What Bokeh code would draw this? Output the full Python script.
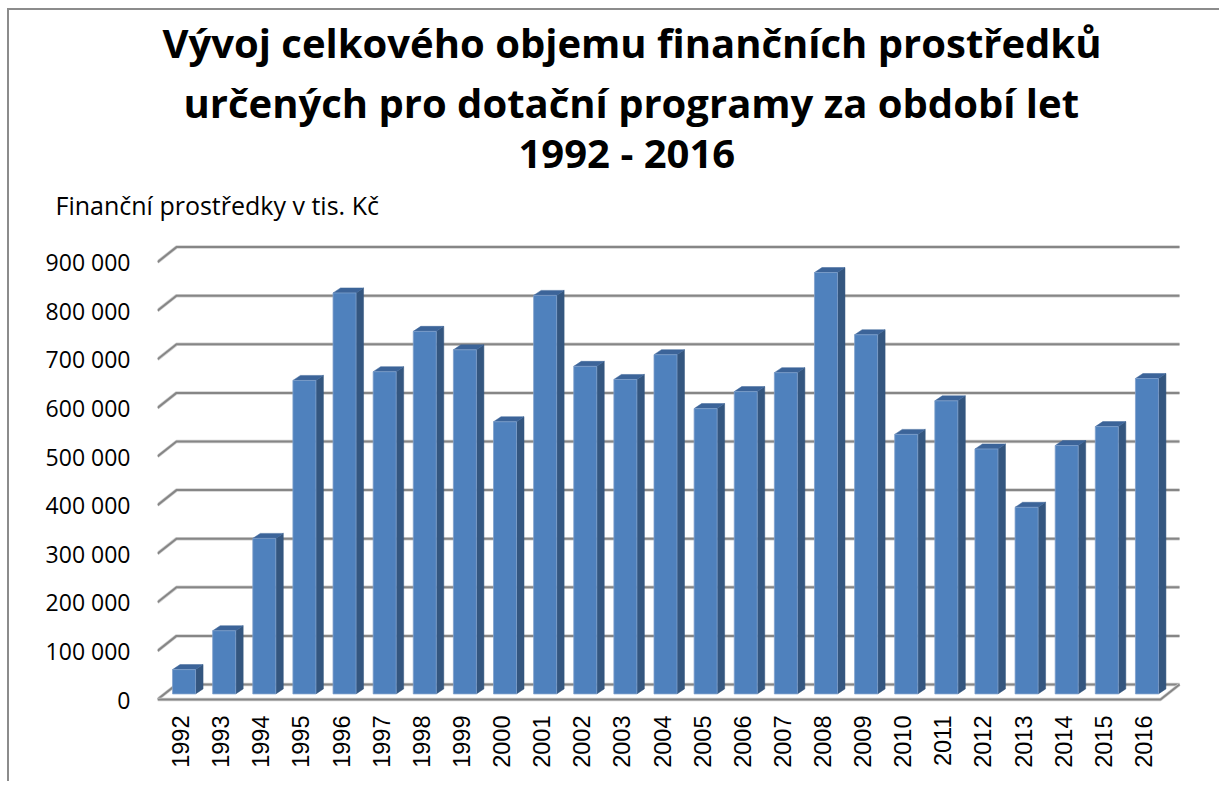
import numpy as np
from bokeh.plotting import figure
from bokeh.models import Range1d, FixedTicker, Title
from bokeh.embed import file_html
from bokeh.resources import INLINE

# ---------------- data ----------------
years = [str(y) for y in range(1992, 2017)]
values = [50000, 130000, 320000, 645000, 825000, 663000, 746000, 708000, 560000, 820000,
          674000, 647000, 698000, 587000, 622000, 661000, 867000, 739000, 534000, 603000,
          504000, 384000, 511000, 550000, 649000]
y_ticks = [0, 100000, 200000, 300000, 400000, 500000, 600000, 700000, 800000, 900000]
title_lines = ["Vývoj celkového objemu finančních prostředků",
               "určených pro dotační programy za období let",
               "1992 - 2016"]
y_caption = "Finanční prostředky v tis. Kč"

# ---------------- geometry (pixels -> data units) ----------------
N = len(years)
PX_PER_CAT = 40.12          # front plane, pixels per category
PX_PER_VAL = 0.000486       # pixels per value unit
FRAME_W = 1028
FRAME_H = 468
ZERO_FROM_BOTTOM = 4        # px between frame bottom and value 0 (front plane)

ux = 1.0 / PX_PER_CAT       # data-x per pixel
uy = 1.0 / PX_PER_VAL       # data-y per pixel

WALL_DX, WALL_DY = 19 * ux, 15 * uy        # back wall offset
BAR_DX, BAR_DY = 6.5 * ux, 5.6 * uy        # bar front face offset
SIDE_DX, SIDE_DY = 7.5 * ux, 5.0 * uy      # bar depth
BAR_W = 23 * ux

x_end = FRAME_W * ux
y_start = -ZERO_FROM_BOTTOM * uy
y_end = (FRAME_H - ZERO_FROM_BOTTOM) * uy

W, H = 1212, 773
p = figure(width=W, height=H, output_backend="svg", toolbar_location=None,
           x_range=Range1d(0, x_end), y_range=Range1d(y_start, y_end),
           min_border_left=148, min_border_right=W - 148 - FRAME_W, min_border_top=225,
           min_border_bottom=H - 225 - FRAME_H, title=None)
p.outline_line_color = None
p.xgrid.visible = False
p.ygrid.visible = False
p.background_fill_color = "white"
p.border_fill_color = "white"
p.styles = {"margin-left": "7px", "margin-top": "8px",
            "border-left": "2px solid #8c8c8c", "border-top": "2px solid #8c8c8c"}

# ---------------- titles ----------------
p.add_layout(Title(text=y_caption, align="left", offset=-102, text_font="Open Sans",
                   text_font_size="25px", text_font_style="normal", text_color="black",
                   standoff=28), "above")
title_offsets = [5, 26, 361]
title_standoffs = [4, 2, -16]
for line, off, so in reversed(list(zip(title_lines, title_offsets, title_standoffs))):
    p.add_layout(Title(text=line, align="left", offset=off, text_font="Open Sans",
                       text_font_size="40px", text_font_style="bold", text_color="black",
                       standoff=so), "above")

# ---------------- gridlines on back wall + side wall ----------------
gx, gy = [], []
for v in y_ticks:
    gx.append([0, WALL_DX, N + WALL_DX])
    gy.append([v, v + WALL_DY, v + WALL_DY])
p.multi_line(gx, gy, line_color="#d0d0d0", line_width=3.5)
p.multi_line(gx, gy, line_color="#868686", line_width=2)

# floor outline (front edge and right diagonal)
p.line([0, N, N + WALL_DX], [0, 0, WALL_DY], line_color="#d0d0d0", line_width=3.5)
p.line([0, N, N + WALL_DX], [0, 0, WALL_DY], line_color="#868686", line_width=2)

# ---------------- bars ----------------
vals = np.array(values, dtype=float)
cx = np.arange(N) + 0.5 + BAR_DX
left = cx - BAR_W / 2
right = cx + BAR_W / 2
bottom = BAR_DY
top = vals + BAR_DY

side_xs = [[r, r + SIDE_DX, r + SIDE_DX, r] for r in right]
side_ys = [[bottom, bottom + SIDE_DY, t + SIDE_DY, t] for t in top]
top_xs = [[l, r, r + SIDE_DX, l + SIDE_DX] for l, r in zip(left, right)]
top_ys = [[t, t, t + SIDE_DY, t + SIDE_DY] for t in top]

p.patches(side_xs, side_ys, fill_color="#34567f", line_color="#34567f", line_width=0.5)
p.patches(top_xs, top_ys, fill_color="#3c6499", line_color="#3c6499", line_width=0.5)
p.vbar(x=cx, bottom=bottom, top=top, width=BAR_W, fill_color="#4f81bd",
       line_color="#7f9fcb", line_width=0.8)

# ---------------- axes ----------------
yax = p.yaxis[0]
yax.ticker = FixedTicker(ticks=y_ticks)
yax.major_label_overrides = {v: f"{v:,}".replace(",", " ") for v in y_ticks}
yax.axis_line_color = None
yax.major_tick_line_color = None
yax.minor_tick_line_color = None
yax.major_tick_out = 0
yax.major_tick_in = 0
yax.minor_tick_out = 0
yax.major_label_standoff = 27
yax.major_label_text_font = "Open Sans"
yax.major_label_text_font_size = "23px"
yax.major_label_text_color = "black"

label_pos = [i + 0.5 + 3 * ux for i in range(N)]
xax = p.xaxis[0]
xax.ticker = FixedTicker(ticks=label_pos)
xax.major_label_overrides = {pos: y for pos, y in zip(label_pos, years)}
xax.major_label_orientation = np.pi / 2
xax.axis_line_color = None
xax.major_tick_line_color = None
xax.minor_tick_line_color = None
xax.major_tick_out = 0
xax.major_tick_in = 0
xax.minor_tick_out = 0
xax.major_label_standoff = 12
xax.major_label_text_font = "Liberation Sans"
xax.major_label_text_font_size = "23.5px"
xax.major_label_text_color = "black"

open("out.html", "w").write(file_html(p, INLINE))
